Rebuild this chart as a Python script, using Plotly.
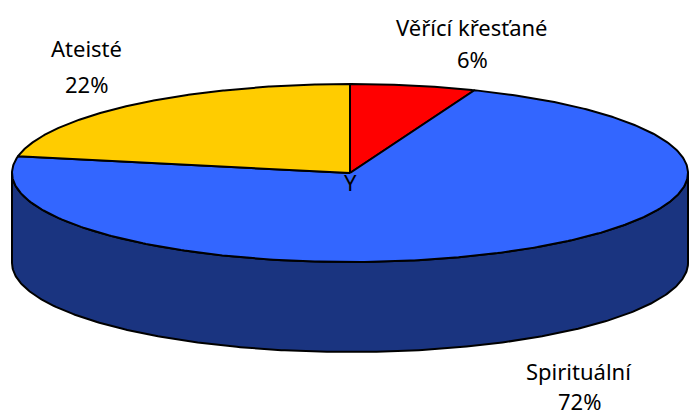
import numpy as np
import plotly.graph_objects as go

# ---- data ----
categories = ["Věřící křesťané", "Spirituální", "Ateisté"]
values = [6, 72, 22]
percent_labels = ["6%", "72%", "22%"]
top_colors = ["#FF0000", "#3366FF", "#FFCC00"]
side_colors = ["#8B0000", "#1A3480", "#8B7000"]

# ---- geometry (pixel space) ----
CX, CY = 350.0, 173.0
RX, RY = 338.0, 89.0
DEPTH = 90.0


def pt(theta_deg, dy=0.0):
    t = np.radians(theta_deg)
    return CX + RX * np.sin(t), CY - RY * np.cos(t) + dy


total = float(sum(values))
starts = []
acc = 0.0
for v in values:
    starts.append(acc)
    acc += v / total * 360.0

fig = go.Figure()

# side walls (only the front half, 90..270 deg, is visible)
for i, v in enumerate(values):
    a = starts[i]
    b = a + v / total * 360.0
    lo, hi = max(a, 90.0), min(b, 270.0)
    if hi <= lo:
        continue
    th = np.linspace(lo, hi, 300)
    xt, yt = pt(th)
    xb, yb = pt(th[::-1], DEPTH)
    xs = np.concatenate([xt, xb, xt[:1]])
    ys = np.concatenate([yt, yb, yt[:1]])
    fig.add_trace(go.Scatter(x=xs, y=ys, mode="lines", fill="toself",
                             fillcolor=side_colors[i],
                             line=dict(color="black", width=2),
                             hoverinfo="skip", showlegend=False))

# top faces
for i, v in enumerate(values):
    a = starts[i]
    b = a + v / total * 360.0
    th = np.linspace(a, b, 400)
    xa, ya = pt(th)
    xs = np.concatenate([[CX], xa, [CX]])
    ys = np.concatenate([[CY], ya, [CY]])
    fig.add_trace(go.Scatter(x=xs, y=ys, mode="lines", fill="toself",
                             fillcolor=top_colors[i],
                             line=dict(color="black", width=2),
                             hoverinfo="skip", showlegend=False))

font = dict(family="Noto Sans, Open Sans, sans-serif", size=22, color="black")
label_pos = {
    "Věřící křesťané": (472, 27, 59),
    "Spirituální": (579, 371, 401),
    "Ateisté": (86, 48, 84),
}
for cat, pct in zip(categories, percent_labels):
    x, y1, y2 = label_pos[cat]
    fig.add_annotation(x=x, y=y1, text=cat, showarrow=False, font=font,
                       xref="x", yref="y", borderpad=0)
    fig.add_annotation(x=x, y=y2, text=pct, showarrow=False, font=font,
                       xref="x", yref="y", borderpad=0)

fig.add_annotation(x=350, y=182, text="Y", showarrow=False, font=font,
                   xref="x", yref="y", borderpad=0)

fig.update_layout(
    width=689, height=417,
    margin=dict(l=0, r=0, t=0, b=0),
    paper_bgcolor="white", plot_bgcolor="white",
    xaxis=dict(range=[0, 689], visible=False, fixedrange=True),
    yaxis=dict(range=[417, 0], visible=False, fixedrange=True),
)

fig.write_html("out.html", config={"displayModeBar": False},
               post_script="document.body.style.margin='0';document.body.style.overflow='hidden';")
